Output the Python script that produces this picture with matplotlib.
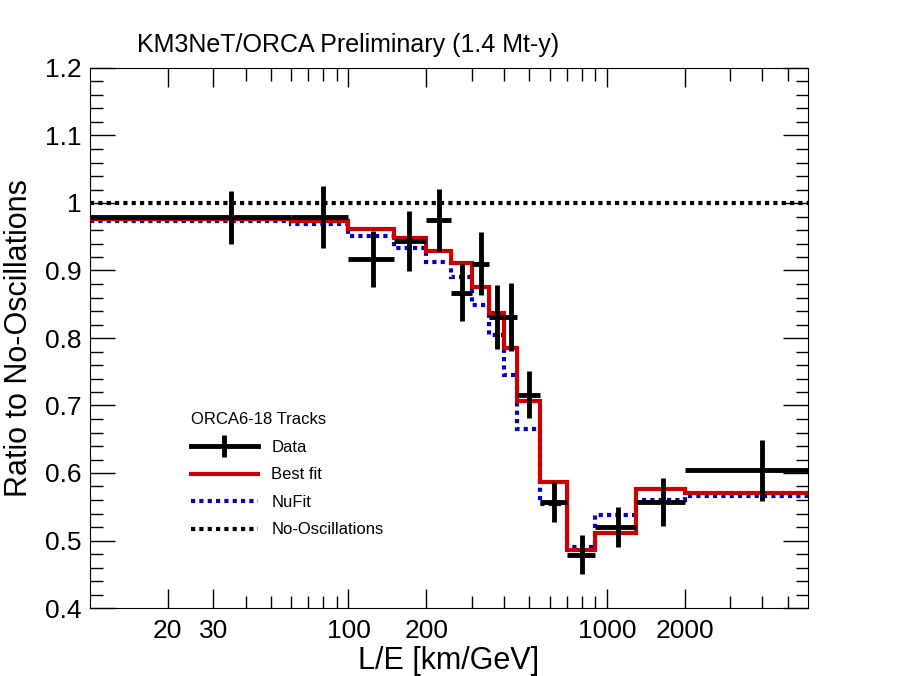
import numpy as np
import matplotlib
matplotlib.use("Agg")
import matplotlib.pyplot as plt
from matplotlib.lines import Line2D
from matplotlib.ticker import FixedLocator, NullFormatter, MultipleLocator

plt.rcParams['font.family'] = ['Liberation Sans', 'DejaVu Sans']

edges = [10, 60, 100, 150, 200, 250, 300, 350, 400, 450, 550, 700, 900, 1300, 2000, 6000]
best_fit = [0.976, 0.973, 0.961, 0.948, 0.929, 0.911, 0.876, 0.837, 0.785, 0.707, 0.587, 0.486, 0.511, 0.576, 0.570]
nufit = [0.973, 0.969, 0.951, 0.933, 0.913, 0.890, 0.849, 0.804, 0.745, 0.665, 0.554, 0.491, 0.538, 0.560, 0.566]

data_x = [35, 80, 125, 171, 224, 276, 326, 376, 426, 499, 624, 800, 1105, 1645, 4000]
data_y = [0.979, 0.979, 0.917, 0.944, 0.975, 0.867, 0.910, 0.831, 0.831, 0.716, 0.557, 0.479, 0.520, 0.557, 0.604]
data_err = [0.039, 0.046, 0.042, 0.044, 0.046, 0.042, 0.047, 0.048, 0.050, 0.035, 0.030, 0.029, 0.029, 0.036, 0.045]

fig = plt.figure(figsize=(8.98, 6.76), dpi=100)
ax = fig.add_axes([90/898, 68/676, 718/898, 540/676])

h_no = ax.axhline(1.0, color='black', lw=3, ls=(0, (1, 1)), zorder=1)
h_nu = ax.stairs(nufit, edges, baseline=None, color='#0000cc', lw=3, ls=(0, (1, 1)), zorder=2)
h_bf = ax.stairs(best_fit, edges, baseline=None, color='#cc0000', lw=3, zorder=3)

dx = np.array(data_x, float)
e = np.array(edges, float)
lo = dx - e[:-1]
hi = e[1:] - dx
ax.errorbar(dx, data_y, yerr=data_err, xerr=[lo, hi], fmt='none', ecolor='black',
            elinewidth=3.5, capsize=0, zorder=4)

ax.set_xscale('log')
ax.set_xlim(10, 6000)
ax.set_ylim(0.4, 1.2)
ax.xaxis.set_major_locator(FixedLocator([20, 30, 100, 200, 1000, 2000]))
ax.xaxis.set_major_formatter(matplotlib.ticker.FixedFormatter(['20', '30', '100', '200', '1000', '2000']))
ax.xaxis.set_minor_locator(FixedLocator([40, 50, 60, 70, 80, 90, 300, 400, 500, 600, 700, 800, 900, 3000, 4000, 5000]))
ax.xaxis.set_minor_formatter(NullFormatter())
ax.yaxis.set_major_locator(MultipleLocator(0.1))
ax.yaxis.set_minor_locator(MultipleLocator(0.02))
ax.yaxis.set_major_formatter(matplotlib.ticker.FuncFormatter(lambda v, p: ('%g' % round(v, 2))))
ax.tick_params(which='both', direction='in', top=True, right=True, labelsize=19)
ax.tick_params(which='major', length=18, width=1)
ax.tick_params(which='minor', length=9, width=1)
ax.tick_params(axis='x', which='major', length=14, pad=8)
ax.tick_params(axis='y', pad=6)
ax.set_xlabel('L/E [km/GeV]', fontsize=22, labelpad=2)
ax.set_ylabel('Ratio to No-Oscillations', fontsize=22, labelpad=8)
fig.text(137/898, 1 - 45/676, 'KM3NeT/ORCA Preliminary (1.4 Mt-y)', fontsize=18, va='center')

h_data = Line2D([], [], color='black', lw=3.5, marker='|', markersize=16, markeredgewidth=3.5)
h_bf_l = Line2D([], [], color='#cc0000', lw=3)
h_nu_l = Line2D([], [], color='#0000cc', lw=3, ls=(0, (1, 1)))
h_no_l = Line2D([], [], color='black', lw=3, ls=(0, (1, 1)))
leg = ax.legend([h_data, h_bf_l, h_nu_l, h_no_l], ['Data', 'Best fit', 'NuFit', 'No-Oscillations'],
                title='ORCA6-18 Tracks', loc='upper left', bbox_to_anchor=(0.12, 0.39),
                frameon=False, fontsize=12, title_fontsize=12, handlelength=4, labelspacing=0.75)
leg._legend_box.align = 'left'
fig.savefig('out.png', dpi=100)
